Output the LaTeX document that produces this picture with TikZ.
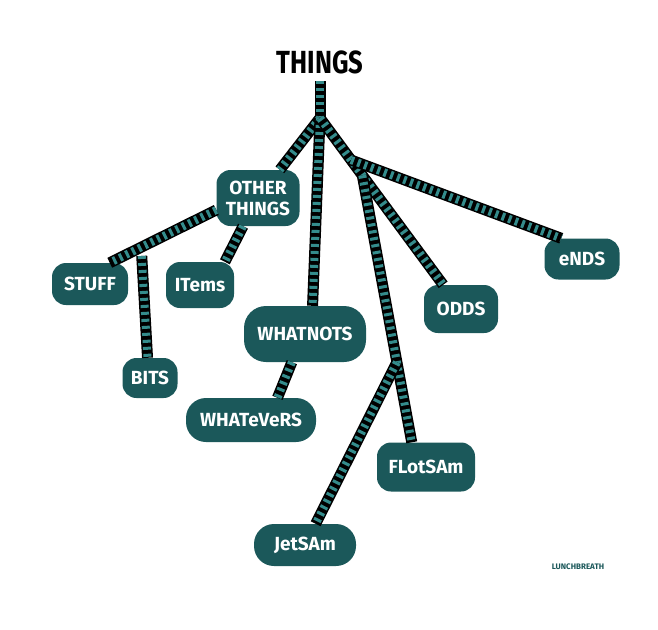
\documentclass[tikz,border=0pt]{standalone}
\usepackage{graphicx}
\usepackage{fontspec}
\setmainfont{Fira Sans}
\usetikzlibrary{calc}
\definecolor{boxteal}{RGB}{27,88,90}
\definecolor{stripeteal}{RGB}{52,140,140}
\begin{document}
\begin{tikzpicture}[x=1pt,y=-1pt,
  box/.style={fill=boxteal, rounded corners=14pt, text=white,
    font=\bfseries\fontsize{19}{21}\selectfont, inner sep=0pt, align=center},
  stripe/.style={draw=stripeteal, line width=8pt, dash pattern=on 3pt off 4pt,
    preaction={draw=black, line width=11pt, solid}}]
\useasboundingbox[fill=white] (0,0) rectangle (658,629);

\node[font=\bfseries\fontsize{32}{36}\selectfont] (things) at (320,62) {\scalebox{0.8}[1]{THINGS}};
\node[box, minimum width=83pt, minimum height=56pt] (ot) at (258,198) {OTHER\\THINGS};
\node[box, minimum width=76pt, minimum height=42pt] (stuff) at (90,284) {STUFF};
\node[box, minimum width=68pt, minimum height=46pt] (items) at (200,285) {ITems};
\node[box, minimum width=55pt, minimum height=40pt] (bits) at (150,378) {BITS};
\node[box, minimum width=122pt, minimum height=56pt, rounded corners=22pt] (wn) at (305,334) {WHATNOTS};
\node[box, minimum width=130pt, minimum height=44pt, rounded corners=20pt] (wv) at (251,420) {WHATeVeRS};
\node[box, minimum width=102pt, minimum height=42pt, rounded corners=20pt] (jetsam) at (305,545) {JetSAm};
\node[box, minimum width=98pt, minimum height=49pt] (flotsam) at (426,467) {FLotSAm};
\node[box, minimum width=74pt, minimum height=48pt] (odds) at (461,309) {ODDS};
\node[box, minimum width=75pt, minimum height=41pt] (ends) at (582,259) {eNDS};
\node[text=boxteal, font=\bfseries\fontsize{8}{9}\selectfont] (sig) at (578,567) {LUNCHBREATH};

\coordinate (J) at (320,118);
\draw[stripe] ([yshift=-4pt]things.south) -- (J);
\draw[stripe] (J) -- (ot);
\draw[stripe] (J) -- (wn.75);
\draw[stripe] (J) -- (odds);
\coordinate (F0) at ($(J)!0.3!(odds)$);
\coordinate (E0) at ($(J)!0.22!(odds)$);
\draw[stripe] (F0) -- (flotsam.120);
\draw[stripe] (E0) -- (ends.135);
\coordinate (JT0) at ($(F0)!0.7!(flotsam.120)$);
\draw[stripe] (JT0) -- (jetsam);
\draw[stripe] (ot.196) -- (stuff.47);
\coordinate (B0) at ($(ot.196)!0.7!(stuff.47)+(0,9)$);
\draw[stripe] (B0) -- (bits.97);
\draw[stripe] (ot.242) -- (items.43);
\draw[stripe] (wn.245) -- (wv.40);
\end{tikzpicture}
\end{document}
